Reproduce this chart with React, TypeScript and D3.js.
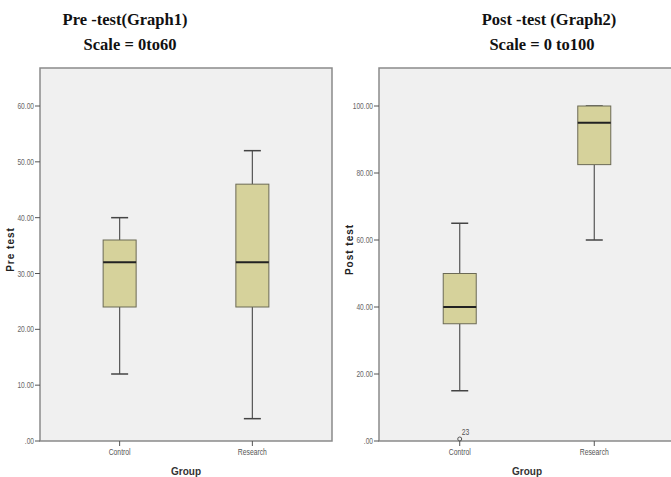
import React, { useRef, useEffect } from "react";
import * as d3 from "d3";

const groups = ["Control", "Research"];

// five-number summaries: [min, q1, median, q3, max]
const preControl = [12, 24, 32, 36, 40];
const preResearch = [4, 24, 32, 46, 52];
const postControl = [15, 35, 40, 50, 65];
const postResearch = [60, 82.5, 95, 100, 100];

const preTicks = [0, 10, 20, 30, 40, 50, 60];
const postTicks = [0, 20, 40, 60, 80, 100];

// outliers: [group, value, case label]
const postOutliers: [string, number, string][] = [["Control", 0, "23"]];

const tickFmt = (v: number) => (v === 0 ? ".00" : v.toFixed(2));
const narrow = "'Liberation Sans Narrow', 'Arial Narrow', 'Liberation Sans', sans-serif";

function drawPanel(svg: any, opts: any) {
  const { left, right, top, bottom, yMax, yTop, ticks, boxes, outliers, yTitle } = opts;
  const g = svg.append("g");

  const x = d3.scalePoint().domain(groups).range([left, right]).padding(0.6);
  const y = d3.scaleLinear().domain([0, yMax]).range([bottom, yTop]);

  g.append("rect")
    .attr("x", left)
    .attr("y", top)
    .attr("width", right - left)
    .attr("height", bottom - top)
    .attr("fill", "#f0f0f0")
    .attr("stroke", "#8a8a8a")
    .attr("stroke-width", 1.5);

  // y ticks
  ticks.forEach((t: number) => {
    g.append("line")
      .attr("x1", left - 5).attr("x2", left)
      .attr("y1", y(t)).attr("y2", y(t))
      .attr("stroke", "#555").attr("stroke-width", 1);
    g.append("text")
      .attr("transform", `translate(${left - 6},${y(t) + 3}) scale(0.78,1)`)
      .attr("text-anchor", "end")
      .style("font-family", narrow)
      .style("font-size", "8.5px")
      .attr("fill", "#666")
      .text(tickFmt(t));
  });

  // x ticks
  groups.forEach((c) => {
    g.append("line")
      .attr("x1", x(c)).attr("x2", x(c))
      .attr("y1", bottom).attr("y2", bottom + 5)
      .attr("stroke", "#555");
    g.append("text")
      .attr("transform", `translate(${x(c)},${bottom + 14}) scale(0.8,1)`)
      .attr("text-anchor", "middle")
      .style("font-family", narrow)
      .style("font-size", "8.5px")
      .attr("fill", "#555")
      .text(c);
  });

  g.append("text")
    .attr("x", (left + right) / 2)
    .attr("y", bottom + 34)
    .attr("text-anchor", "middle")
    .style("font-family", "'Liberation Sans', Arial, sans-serif")
    .style("font-size", "10px")
    .style("font-weight", "bold")
    .attr("fill", "#333")
    .text("Group");

  g.append("text")
    .attr("transform", `translate(${left - 26},${(top + bottom) / 2 - 5}) rotate(-90)`)
    .attr("text-anchor", "middle")
    .style("font-family", "'Liberation Sans', Arial, sans-serif")
    .style("font-size", "10px")
    .style("font-weight", "bold")
    .style("letter-spacing", "1px")
    .attr("fill", "#222")
    .text(yTitle);

  const boxW = 33;
  const capW = 17;
  boxes.forEach(([c, s]: [string, number[]]) => {
    const cx = x(c) as number;
    const [mn, q1, med, q3, mx] = s;
    // whiskers
    g.append("line").attr("x1", cx).attr("x2", cx).attr("y1", y(q3)).attr("y2", y(mx))
      .attr("stroke", "#555").attr("stroke-width", 1.2);
    g.append("line").attr("x1", cx).attr("x2", cx).attr("y1", y(q1)).attr("y2", y(mn))
      .attr("stroke", "#555").attr("stroke-width", 1.2);
    g.append("line").attr("x1", cx - capW / 2).attr("x2", cx + capW / 2).attr("y1", y(mx)).attr("y2", y(mx))
      .attr("stroke", "#444").attr("stroke-width", 1.5);
    g.append("line").attr("x1", cx - capW / 2).attr("x2", cx + capW / 2).attr("y1", y(mn)).attr("y2", y(mn))
      .attr("stroke", "#444").attr("stroke-width", 1.5);
    g.append("rect")
      .attr("x", cx - boxW / 2)
      .attr("y", y(q3))
      .attr("width", boxW)
      .attr("height", y(q1) - y(q3))
      .attr("fill", "#d6d29b")
      .attr("stroke", "#6b6a55")
      .attr("stroke-width", 1);
    g.append("line").attr("x1", cx - boxW / 2).attr("x2", cx + boxW / 2).attr("y1", y(med)).attr("y2", y(med))
      .attr("stroke", "#222").attr("stroke-width", 2);
  });

  (outliers || []).forEach(([c, v, lab]: [string, number, string]) => {
    const cx = x(c) as number;
    g.append("circle").attr("cx", cx).attr("cy", y(v) - 2).attr("r", 2)
      .attr("fill", "none").attr("stroke", "#555").attr("stroke-width", 1);
    g.append("text")
      .attr("transform", `translate(${cx + 2},${y(v) - 6}) scale(0.8,1)`)
      .style("font-family", narrow)
      .style("font-size", "8.5px")
      .attr("fill", "#555")
      .text(lab);
  });
}

function App() {
  const svgRef = useRef<SVGSVGElement>(null);

  useEffect(() => {
    const svg = d3.select(svgRef.current);
    svg.selectAll("*").remove();

    svg.append("rect").attr("width", 671).attr("height", 477).attr("fill", "#fff");

    drawPanel(svg, {
      left: 40, right: 332, top: 68, bottom: 441, yMax: 60, yTop: 106,
      ticks: preTicks,
      boxes: [["Control", preControl], ["Research", preResearch]],
      outliers: [],
      yTitle: "Pre test",
    });
    drawPanel(svg, {
      left: 379, right: 675, top: 68, bottom: 441, yMax: 100, yTop: 106,
      ticks: postTicks,
      boxes: [["Control", postControl], ["Research", postResearch]],
      outliers: postOutliers,
      yTitle: "Post test",
    });

    const titles: [string, number, number][] = [
      ["Pre -test(Graph1)", 125, 25],
      ["Scale = 0to60", 130, 50],
      ["Post -test (Graph2)", 549, 25],
      ["Scale = 0 to100", 542, 50],
    ];
    titles.forEach(([t, tx, ty]) => {
      svg.append("text")
        .attr("x", tx)
        .attr("y", ty)
        .attr("text-anchor", "middle")
        .style("font-family", "'Liberation Serif', 'Times New Roman', serif")
        .style("font-size", "16.5px")
        .style("font-weight", "bold")
        .attr("fill", "#111")
        .text(t);
    });
  }, []);

  return (
    <svg
      ref={svgRef}
      width={671}
      height={477}
      style={{ position: "absolute", left: 0, top: 0 }}
    ></svg>
  );
}

export default App;
